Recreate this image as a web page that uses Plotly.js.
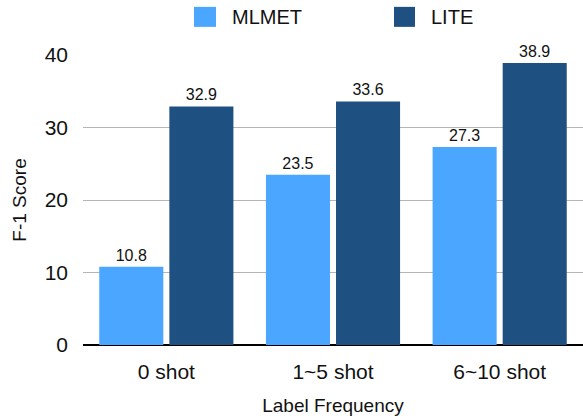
<!DOCTYPE html>
<html>
<head>
<meta charset="utf-8">
<script src="https://cdn.plot.ly/plotly-3.0.1.min.js"></script>
<style>html,body{margin:0;padding:0;background:#fff;}#chart{width:583px;height:418px;}</style>
</head>
<body>
<div id="chart"></div>
<script>
const categories = ["0 shot", "1~5 shot", "6~10 shot"];
const seriesNames = ["MLMET", "LITE"];
const mlmet = [10.8, 23.5, 27.3];
const lite = [32.9, 33.6, 38.9];
const colors = ["#4aa6ff", "#1f5082"];
const yTicks = [0, 10, 20, 30, 40];

const FONT = "Liberation Sans, Arial, Helvetica, sans-serif";

const traces = [mlmet, lite].map((vals, i) => ({
  type: "bar",
  name: seriesNames[i],
  x: categories,
  y: vals,
  marker: {color: colors[i]},
  text: vals.map(v => v.toFixed(1)),
  textposition: "outside",
  textfont: {family: FONT, size: 16, color: "#111"},
  cliponaxis: false,
  showlegend: false,
  hoverinfo: "none"
}));

// Legend drawn as shapes + annotations (large square swatches)
const legendX = [[0.222, 0.266, 0.294], [0.622, 0.664, 0.692]];
const shapes = seriesNames.map((n, i) => ({
  type: "rect", xref: "paper", yref: "paper",
  x0: legendX[i][0], x1: legendX[i][1], y0: 1.097, y1: 1.166,
  fillcolor: colors[i], line: {width: 0}
}));
const annotations = seriesNames.map((n, i) => ({
  xref: "paper", yref: "paper", x: legendX[i][2], y: 1.131,
  xanchor: "left", yanchor: "middle", showarrow: false,
  text: n, font: {family: FONT, size: 20, color: "#111"}
}));

const layout = {
  width: 583, height: 418,
  margin: {l: 83, r: 0, t: 55, b: 73},
  paper_bgcolor: "#fff", plot_bgcolor: "#fff",
  barmode: "group",
  bargap: 0.159,
  bargroupgap: 0.086,
  showlegend: false,
  font: {family: FONT, color: "#111"},
  xaxis: {
    type: "category",
    range: [-0.5, 2.5],
    tickfont: {family: FONT, size: 21, color: "#111"},
    ticks: "",
    ticklabelstandoff: 12,
    showgrid: false,
    showline: false,
    zeroline: false,
    title: {text: "Label Frequency", font: {family: FONT, size: 19, color: "#111"}, standoff: 16}
  },
  yaxis: {
    range: [0, 40],
    tickvals: yTicks,
    ticktext: yTicks.map(String),
    tickfont: {family: FONT, size: 21, color: "#111"},
    ticks: "",
    ticklabelstandoff: 14,
    showgrid: true,
    gridcolor: "#b5b5b5",
    gridwidth: 1,
    zeroline: true,
    zerolinecolor: "#000",
    zerolinewidth: 1.5,
    showline: false,
    title: {text: "F-1 Score", font: {family: FONT, size: 19, color: "#111"}, standoff: 12}
  },
  shapes: shapes,
  annotations: annotations
};

Plotly.newPlot("chart", traces, layout, {staticPlot: true, displayModeBar: false});
</script>
</body>
</html>
